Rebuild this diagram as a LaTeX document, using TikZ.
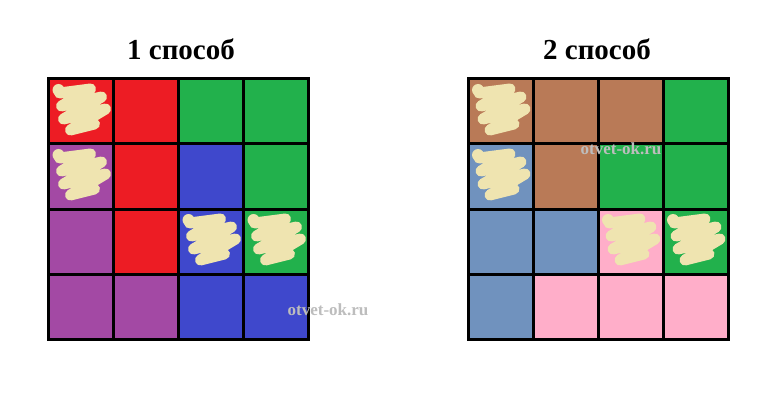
\documentclass[tikz,border=0pt]{standalone}
\usepackage{fontspec}
\setmainfont{Liberation Serif}
\definecolor{cred}{HTML}{ED1C24}
\definecolor{cgreen}{HTML}{22B14C}
\definecolor{cblue}{HTML}{3F48CC}
\definecolor{cpurple}{HTML}{A349A4}
\definecolor{cbrown}{HTML}{B97A57}
\definecolor{csteel}{HTML}{7092BE}
\definecolor{cpink}{HTML}{FFAEC9}
\definecolor{ccream}{HTML}{EFE4B0}
\definecolor{cmark}{HTML}{BDBDBD}
\tikzset{
  cell/.style={draw=black, line width=3pt, minimum size=65pt, inner sep=0pt, outer sep=0pt},
  title/.style={font=\bfseries\fontsize{29}{32}\selectfont, anchor=base},
  wmark/.style={font=\bfseries\fontsize{17}{19}\selectfont, text=cmark},
  scrib/.pic={
    \draw[ccream, line width=11pt, line cap=round, line join=round]
      (11,14) -- (42,10) -- (13,27) -- (53,18) -- (15,40) -- (57,30) -- (22,51) -- (46,45);
    \fill[ccream] (10,11) circle (6pt);
  }
}
\begin{document}
\begin{tikzpicture}[x=1pt, y=-1pt]
\useasboundingbox (0,0) rectangle (781,406);
\fill[white] (0,0) rectangle (781,406);
% titles
\node[title] (t1) at (181,60) {1 способ};
\node[title] (t2) at (597,60) {2 способ};
% left grid
\foreach \c [count=\i] in {cred,cred,cgreen,cgreen}
  \node[cell, fill=\c] (L1\i) at ({48.5+65*(\i-0.5)},{79+65*0.5}) {};
\foreach \c [count=\i] in {cpurple,cred,cblue,cgreen}
  \node[cell, fill=\c] (L2\i) at ({48.5+65*(\i-0.5)},{79+65*1.5}) {};
\foreach \c [count=\i] in {cpurple,cred,cblue,cgreen}
  \node[cell, fill=\c] (L3\i) at ({48.5+65*(\i-0.5)},{79+65*2.5}) {};
\foreach \c [count=\i] in {cpurple,cpurple,cblue,cblue}
  \node[cell, fill=\c] (L4\i) at ({48.5+65*(\i-0.5)},{79+65*3.5}) {};
% right grid
\foreach \c [count=\i] in {cbrown,cbrown,cbrown,cgreen}
  \node[cell, fill=\c] (R1\i) at ({468+65*(\i-0.5)},{79+65*0.5}) {};
\foreach \c [count=\i] in {csteel,cbrown,cgreen,cgreen}
  \node[cell, fill=\c] (R2\i) at ({468+65*(\i-0.5)},{79+65*1.5}) {};
\foreach \c [count=\i] in {csteel,csteel,cpink,cgreen}
  \node[cell, fill=\c] (R3\i) at ({468+65*(\i-0.5)},{79+65*2.5}) {};
\foreach \c [count=\i] in {csteel,cpink,cpink,cpink}
  \node[cell, fill=\c] (R4\i) at ({468+65*(\i-0.5)},{79+65*3.5}) {};
% scribbles
\foreach \n in {L11,L21,L33,L34,R11,R21,R33,R34}
  \pic at (\n.north west) {scrib};
% redraw borders on top
\foreach \n in {L11,L21,L33,L34,R11,R21,R33,R34}
  \draw[black, line width=3pt] (\n.north west) rectangle (\n.south east);
% watermarks
\node[wmark] (w1) at (328,310) {otvet-ok.ru};
\node[wmark] (w2) at (621,149) {otvet-ok.ru};
\end{tikzpicture}
\end{document}
